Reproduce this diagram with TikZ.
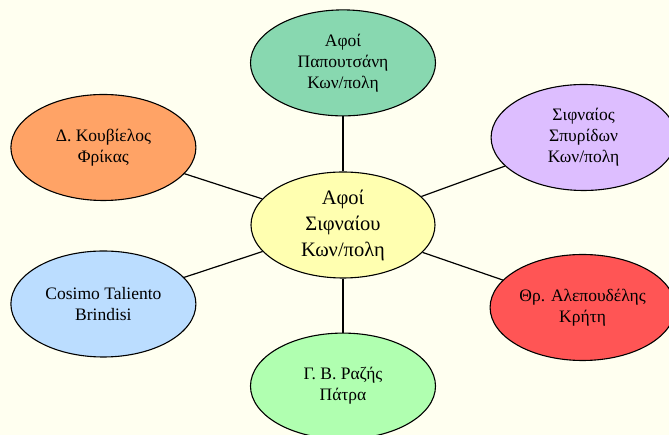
\documentclass[tikz,border=0pt]{standalone}
\usepackage{fontspec}
\setmainfont{Liberation Serif}
\usepackage{tikz}
\usetikzlibrary{%
  shapes.geometric, positioning
}
\usepackage{xcolor}
\definecolor{bgivory}{RGB}{255,255,240}
\definecolor{hubyellow}{RGB}{255,255,176}
\definecolor{mint}{RGB}{136,216,176}
\definecolor{peach}{RGB}{255,163,102}
\definecolor{lilac}{RGB}{221,190,255}
\definecolor{skyblue}{RGB}{187,221,255}
\definecolor{coral}{RGB}{255,85,85}
\definecolor{palegreen}{RGB}{176,255,176}
\tikzstyle{enode} = [%
  ellipse,
  draw=black,
  line width=1.1pt,
  minimum width=185pt,
  minimum height=106pt,
  align=center,
  text centered,
  inner sep=0pt,
  font=\fontsize{17.5}{21}\selectfont
]

\begin{document}
\begin{tikzpicture}[%
  every node/.style={%
    text=black,
    align=center
  },
  spoke/.style={draw=black,line width=1.2pt}
]

  % Frame
  \useasboundingbox (-343pt,-210pt) rectangle (326pt,225pt);
  \fill[bgivory] (-343pt,-210pt) rectangle (326pt,225pt);
  \clip (-343pt,-210pt) rectangle (326pt,225pt);

  % Nodes
  \node[enode,fill=hubyellow,minimum width=184pt,font=\fontsize{20.5}{26}\selectfont] (hub) {Αφοί\\Σιφναίου\\Κων/πολη};
  \node[above=55pt of hub, enode, fill=mint] (papo) {Αφοί\\Παπουτσάνη\\Κων/πολη};
  \node[below=54pt of hub, enode, fill=palegreen] (razis) {Γ. Β. Ραζής\\Πάτρα};
  \node[left=54pt of hub, enode, fill=peach, yshift=77.5pt] (kouv) {Δ. Κουβίελος\\Φρίκας};
  \node[left=54pt of hub, enode, fill=skyblue, yshift=-79pt] (cosimo) {Cosimo Taliento\\Brindisi};
  \node[right=55pt of hub, enode, fill=lilac, yshift=87.5pt] (sifn) {Σιφναίος\\Σπυρίδων\\Κων/πολη};
  \node[right=54pt of hub, enode, fill=coral, yshift=-82.5pt] (alep) {Θρ. Αλεπουδέλης\\Κρήτη};

  % Spokes
  \foreach \n in {papo,razis,kouv,cosimo,sifn,alep}
    \draw[spoke] (hub) -- (\n);

\end{tikzpicture}
\end{document}
